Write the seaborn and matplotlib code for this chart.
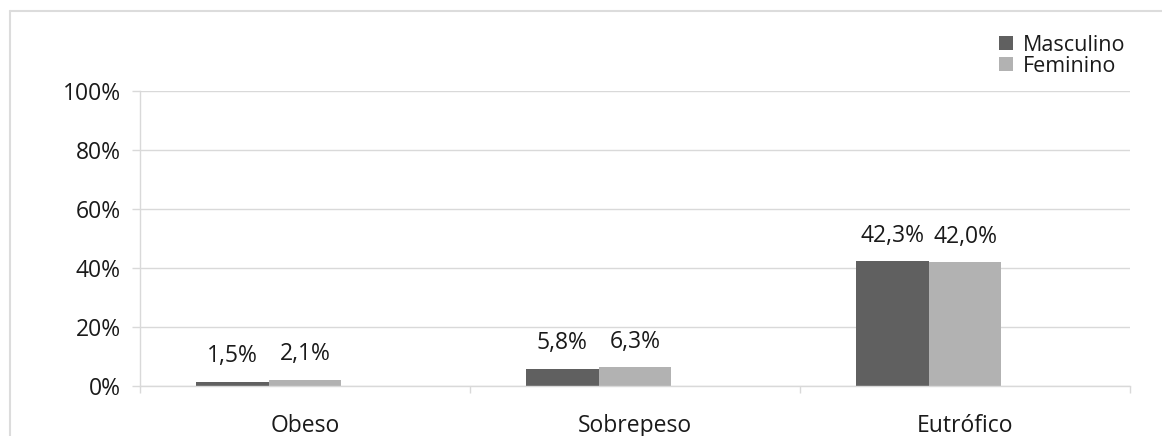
import matplotlib
matplotlib.use("Agg")
import matplotlib.pyplot as plt
from matplotlib.lines import Line2D
from matplotlib.patches import Patch
from matplotlib.ticker import FixedLocator, PercentFormatter
import seaborn as sns
import pandas as pd

categories = ["Obeso", "Sobrepeso", "Eutrófico"]
series_names = ["Masculino", "Feminino"]
masculino = [1.5, 5.8, 42.3]
feminino = [2.1, 6.3, 42.0]
y_ticks = [0, 20, 40, 60, 80, 100]

colors = {"Masculino": "#606060", "Feminino": "#b2b2b2", "(vazio)": "white"}
# the chart keeps a slot for a third, empty series, so each pair sits left of centre
hue_slots = series_names + ["(vazio)"]
grid_color = "#d9d9d9"
text_color = "#1a1a1a"

df = pd.DataFrame({
    "categoria": categories * 2,
    "sexo": [series_names[0]] * 3 + [series_names[1]] * 3,
    "valor": masculino + feminino,
})

sns.set_theme(style="white")
plt.rcParams["font.family"] = ["Open Sans", "DejaVu Sans"]

W, H = 1162, 436
fig = plt.figure(figsize=(W / 100, H / 100), dpi=100)
ax = fig.add_axes([140 / W, 1 - 386 / H, (1130 - 140) / W, (386 - 91) / H])

sns.barplot(data=df, x="categoria", y="valor", hue="sexo", order=categories,
            hue_order=hue_slots, palette=colors, width=0.66, saturation=1,
            edgecolor="none", linewidth=0, legend=False, ax=ax)

ax.set_xlim(-0.5, 2.5)
ax.set_ylim(0, 100)
ax.yaxis.set_major_locator(FixedLocator(y_ticks))
ax.yaxis.set_major_formatter(PercentFormatter(decimals=0))
ax.grid(axis="y", color=grid_color, linewidth=1)
ax.set_axisbelow(True)
ax.set_xlabel("")
ax.set_ylabel("")

for side in ["top", "right"]:
    ax.spines[side].set_visible(False)
for side in ["left", "bottom"]:
    ax.spines[side].set_color(grid_color)
    ax.spines[side].set_linewidth(1)

ax.tick_params(axis="y", which="major", direction="out", length=6, width=1,
               color=grid_color, labelsize=16.5, labelcolor=text_color, pad=8,
               left=True)
ax.tick_params(axis="x", which="major", length=0, labelsize=16.5,
               labelcolor=text_color, pad=20)
ax.xaxis.set_minor_locator(FixedLocator([-0.5, 0.5, 1.5, 2.5]))
ax.tick_params(axis="x", which="minor", direction="out", length=5, width=1,
               color=grid_color, bottom=True)

# value labels above each drawn bar
for container in ax.containers:
    for bar in container:
        h = bar.get_height()
        if not h == h or h == 0:
            continue
        ax.annotate(f"{h:.1f}%".replace(".", ","),
                    (bar.get_x() + bar.get_width() / 2, h),
                    xytext=(0, 14), textcoords="offset points",
                    ha="center", va="baseline", fontsize=16.5, color=text_color)

handles = [Patch(facecolor=colors[s], edgecolor="none") for s in series_names]
fig.legend(handles, series_names, loc="upper left",
           bbox_to_anchor=(988 / W, 1 - 24 / H), frameon=False,
           fontsize=15.5, handlelength=0.65, handleheight=0.65,
           handletextpad=0.45, labelspacing=0.0, borderpad=0,
           labelcolor=text_color)

# outer chart frame
fig.add_artist(Line2D([10 / W, 10 / W], [0, 1 - 11 / H], transform=fig.transFigure,
                      color="#dcdcdc", linewidth=1.5))
fig.add_artist(Line2D([10 / W, 1], [1 - 11 / H, 1 - 11 / H], transform=fig.transFigure,
                      color="#dcdcdc", linewidth=1.5))

fig.savefig("out.png", dpi=100, facecolor="white")
